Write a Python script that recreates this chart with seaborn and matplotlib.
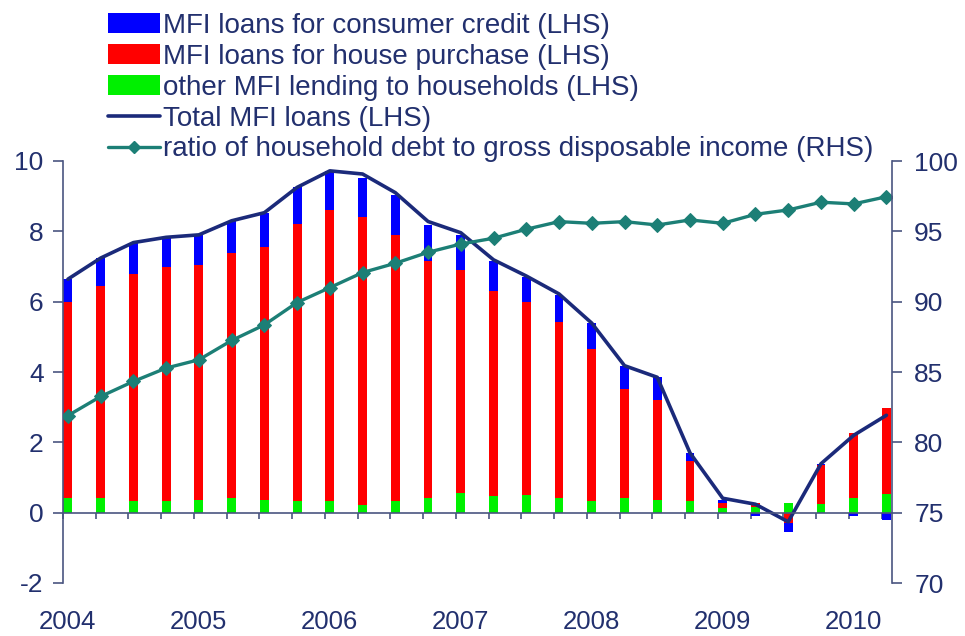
import numpy as np
import pandas as pd
import matplotlib
matplotlib.use("Agg")
import matplotlib.pyplot as plt
from matplotlib.patches import Patch
from matplotlib.lines import Line2D
import seaborn as sns

# ---------------- data (quarterly, 2004Q1 - 2010Q2) ----------------
quarters = ["2004Q1", "2004Q2", "2004Q3", "2004Q4", "2005Q1", "2005Q2", "2005Q3", "2005Q4",
            "2006Q1", "2006Q2", "2006Q3", "2006Q4", "2007Q1", "2007Q2", "2007Q3", "2007Q4",
            "2008Q1", "2008Q2", "2008Q3", "2008Q4", "2009Q1", "2009Q2", "2009Q3", "2009Q4",
            "2010Q1", "2010Q2"]
other_lending = [0.42, 0.42, 0.34, 0.34, 0.37, 0.42, 0.37, 0.34, 0.33, 0.23, 0.32, 0.42, 0.56,
                 0.48, 0.51, 0.42, 0.34, 0.42, 0.37, 0.34, 0.14, 0.17, 0.27, 0.24, 0.41, 0.53]
house_purchase = [5.58, 6.03, 6.45, 6.64, 6.67, 6.96, 7.18, 7.87, 8.27, 8.17, 7.58, 6.74, 6.34,
                  5.83, 5.49, 4.99, 4.31, 3.09, 2.82, 1.12, 0.13, 0.11, -0.30, 1.12, 1.85, 2.46]
consumer_credit = [0.64, 0.79, 0.89, 0.85, 0.86, 0.92, 0.98, 1.04, 1.12, 1.11, 1.13, 1.02, 1.00,
                   0.85, 0.69, 0.78, 0.74, 0.67, 0.66, 0.24, 0.10, -0.09, -0.24, 0.02, -0.09, -0.21]
total_loans = [6.64, 7.24, 7.68, 7.83, 7.90, 8.30, 8.53, 9.25, 9.72, 9.63, 9.10, 8.28, 7.96,
               7.19, 6.73, 6.22, 5.39, 4.18, 3.85, 1.70, 0.41, 0.24, -0.26, 1.39, 2.20, 2.77]
debt_ratio = [81.9, 83.26, 84.33, 85.28, 85.87, 87.24, 88.35, 89.94, 91.0, 92.07, 92.73, 93.51,
              94.1, 94.51, 95.15, 95.69, 95.57, 95.69, 95.45, 95.81, 95.57, 96.21, 96.52, 97.07,
              96.95, 97.46]
year_labels = ["2004", "2005", "2006", "2007", "2008", "2009", "2010"]
left_ticks = [-2, 0, 2, 4, 6, 8, 10]
right_ticks = [70, 75, 80, 85, 90, 95, 100]

series_names = ["MFI loans for consumer credit (LHS)", "MFI loans for house purchase (LHS)",
                "other MFI lending to households (LHS)", "Total MFI loans (LHS)",
                "ratio of household debt to gross disposable income (RHS)"]

# ---------------- style ----------------
sns.set_theme(style="white")
plt.rcParams["font.family"] = ["Liberation Sans", "DejaVu Sans"]
NAVY_TXT = "#22306e"
SPINE = "#4a5580"
BLUE = "#0000ff"
RED = "#ff0000"
GREEN = "#00f000"
NAVY = "#1b2a7a"
TEAL = "#1c7f76"

fig = plt.figure(figsize=(9.65, 6.36), dpi=100)
ax = fig.add_axes([63 / 965, 1 - 583 / 636, (892 - 63) / 965, (583 - 161) / 636])
ax2 = ax.twinx()

x = np.arange(len(quarters))
layers = [(other_lending, GREEN), (house_purchase, RED), (consumer_credit, BLUE)]
pos_base = np.zeros(len(x))
neg_base = np.zeros(len(x))
for vals, col in layers:
    v = np.asarray(vals, dtype=float)
    bottoms = np.where(v >= 0, pos_base, neg_base)
    df = pd.DataFrame({"x": x, "v": v})
    sns.barplot(data=df, x="x", y="v", bottom=bottoms, native_scale=True, width=0.27,
                color=col, saturation=1, errorbar=None, linewidth=0, ax=ax)
    pos_base = pos_base + np.where(v >= 0, v, 0)
    neg_base = neg_base + np.where(v < 0, v, 0)

df_tot = pd.DataFrame({"x": x, "total": total_loans, "ratio": debt_ratio})
sns.lineplot(data=df_tot, x="x", y="total", color=NAVY, linewidth=2.6, ax=ax)
sns.lineplot(data=df_tot, x="x", y="ratio", color=TEAL, linewidth=2.4, marker="D",
             markersize=7.5, markeredgecolor=TEAL, ax=ax2)

# ---------------- axes ----------------
ax.set_xlim(-0.15, 25.17)
ax.set_ylim(-2, 10)
ax2.set_ylim(70, 100)
ax.set_xlabel("")
ax.set_ylabel("")
ax2.set_ylabel("")
ax2.set_xlabel("")

ax.set_yticks(left_ticks)
ax.set_yticklabels([str(t) for t in left_ticks])
ax2.set_yticks(right_ticks)
ax2.set_yticklabels([str(t) for t in right_ticks])

ax.set_xticks(np.arange(0, 25, 4))
ax.set_xticklabels(year_labels)
ax.set_xticks(x - 0.15, minor=True)

for s in ["top", "right"]:
    ax.spines[s].set_visible(False)
for s in ["top", "left", "bottom"]:
    ax2.spines[s].set_visible(False)
ax.spines["bottom"].set_position(("data", 0))
for sp in [ax.spines["left"], ax.spines["bottom"], ax2.spines["right"]]:
    sp.set_color(SPINE)
    sp.set_linewidth(1.2)

ax.tick_params(axis="y", which="major", direction="out", length=7, width=1.2,
               color=SPINE, labelcolor=NAVY_TXT, labelsize=19, pad=7, left=True)
ax2.tick_params(axis="y", which="major", direction="out", length=7, width=1.2,
                color=SPINE, labelcolor=NAVY_TXT, labelsize=19, pad=9, right=True)
ax.tick_params(axis="x", which="major", length=0, labelsize=18.5, labelcolor=NAVY_TXT, pad=70,
               bottom=True)
ax.tick_params(axis="x", which="minor", direction="out", length=4.5, width=1.2,
               color=SPINE, bottom=True)
ax.grid(False)
ax2.grid(False)
ax.set_facecolor("none")
ax2.set_facecolor("none")

# ---------------- legend ----------------
handles = [
    Patch(facecolor=BLUE, edgecolor="none"),
    Patch(facecolor=RED, edgecolor="none"),
    Patch(facecolor=GREEN, edgecolor="none"),
    Line2D([], [], color=NAVY, linewidth=2.6),
    Line2D([], [], color=TEAL, linewidth=2.4, marker="D", markersize=6),
]
leg = fig.legend(handles, series_names, loc="upper left",
                 bbox_to_anchor=(108 / 965, 1 - 13 / 636), frameon=False, fontsize=20,
                 handlelength=1.87, handleheight=0.72, handletextpad=0.1,
                 labelspacing=0.175, borderpad=0, borderaxespad=0)
for t in leg.get_texts():
    t.set_color(NAVY_TXT)

fig.savefig("out.png", dpi=100)
